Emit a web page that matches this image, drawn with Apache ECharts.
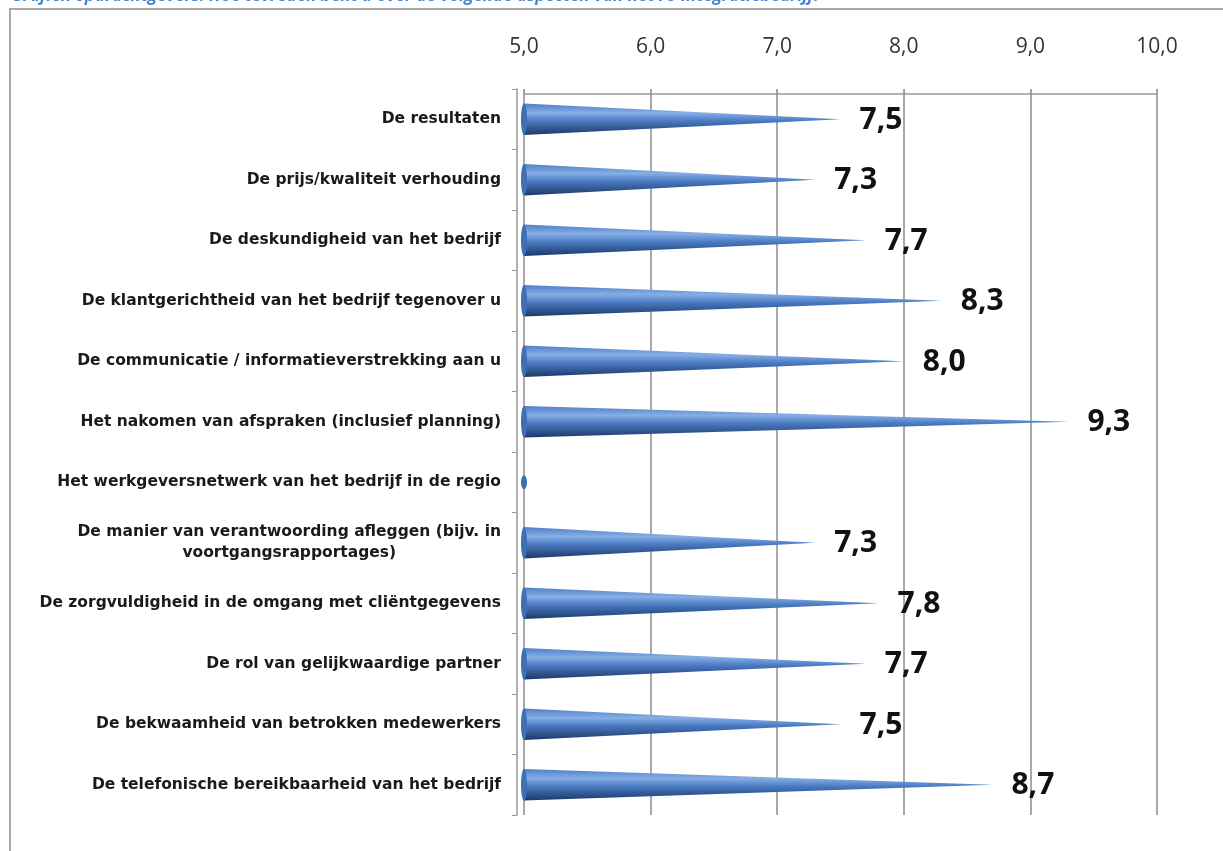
<!DOCTYPE html>
<html>
<head>
<meta charset="utf-8">
<script src="https://cdn.jsdelivr.net/npm/echarts@6/dist/echarts.min.js"></script>
<style>
  html, body { margin: 0; padding: 0; background: #fff; }
  #chart { width: 1223px; height: 851px; }
</style>
</head>
<body>
<div id="chart"></div>
<script>
// categories (top to bottom)
const categories = [
  'De resultaten',
  'De prijs/kwaliteit verhouding',
  'De deskundigheid van het bedrijf',
  'De klantgerichtheid van het bedrijf tegenover u',
  'De communicatie / informatieverstrekking aan u',
  'Het nakomen van afspraken (inclusief planning)',
  'Het werkgeversnetwerk van het bedrijf in de regio',
  'De manier van verantwoording afleggen (bijv. in\nvoortgangsrapportages)',
  'De zorgvuldigheid in de omgang met cliëntgegevens',
  'De rol van gelijkwaardige partner',
  'De bekwaamheid van betrokken medewerkers',
  'De telefonische bereikbaarheid van het bedrijf',
];
// average scores (blank = no answer)
const scores = [7.5, 7.3, 7.7, 8.3, 8.0, 9.3, null, 7.3, 7.8, 7.7, 7.5, 8.7];
const axisMin = 5;
const axisMax = 10;
const axisStep = 1;

const titleText = 'Grafiek opdrachtgevers: Hoe tevreden bent u over de volgende aspecten van het re-integratiebedrijf.';

const myChart = echarts.init(document.getElementById('chart'));

// kegelvorm: breed bij de basis, punt bij de waarde
const coneFill = new echarts.graphic.LinearGradient(0, 0, 0, 1, [
  { offset: 0, color: '#4f7fc6' },
  { offset: 0.3, color: '#86aee6' },
  { offset: 0.55, color: '#4a7bc2' },
  { offset: 1, color: '#1c3868' },
]);

function renderCone(params, api) {
  const idx = api.value(0);
  const val = api.value(1);
  const base = api.coord([axisMin, idx]);
  const bandH = api.size([0, 1])[1];
  const h = bandH * 0.52;
  const children = [];
  if (!isNaN(val) && val != null) {
    const tip = api.coord([val, idx]);
    children.push({
      type: 'polygon',
      shape: {
        points: [
          [base[0], base[1] - h / 2],
          [tip[0], base[1]],
          [base[0], base[1] + h / 2],
        ],
      },
      style: { fill: coneFill },
    });
    children.push({
      type: 'text',
      x: tip[0] + 19,
      y: base[1] + 1,
      style: {
        text: val.toFixed(1).replace('.', ','),
        fontFamily: 'Open Sans, sans-serif',
        fontWeight: 'bold',
        fontSize: 30,
        fill: '#111',
        verticalAlign: 'middle',
        align: 'left',
      },
    });
  }
  // basis van de kegel
  children.push({
    type: 'ellipse',
    shape: { cx: base[0], cy: base[1], rx: 3, ry: isNaN(val) || val == null ? 7 : h / 2 },
    style: { fill: '#3f6fb5' },
  });
  return { type: 'group', children: children };
}

const option = {
  backgroundColor: '#fff',
  animation: false,
  graphic: [
    {
      type: 'rect',
      shape: { x: 10, y: 9, width: 1240, height: 870 },
      style: { fill: 'none', stroke: '#8a8a8a', lineWidth: 1.5 },
      silent: true,
    },
    {
      type: 'text',
      left: 11,
      top: -12,
      style: {
        text: titleText,
        fontFamily: 'Open Sans, sans-serif',
        fontStyle: 'italic',
        fontWeight: 'bold',
        fontSize: 17,
        fill: '#4a86c8',
      },
    },
  ],
  grid: {
    left: 524,
    right: 66,
    top: 89,
    bottom: 36,
  },
  xAxis: {
    type: 'value',
    position: 'top',
    min: axisMin,
    max: axisMax,
    interval: axisStep,
    offset: -5,
    axisLine: { show: true, lineStyle: { color: '#999', width: 1.5 } },
    axisTick: { show: true, length: 5, lineStyle: { color: '#999' } },
    axisLabel: {
      margin: 36,
      fontFamily: 'Open Sans, sans-serif',
      fontSize: 21,
      color: '#333',
      formatter: (v) => v.toFixed(1).replace('.', ','),
    },
    splitLine: { show: true, lineStyle: { color: '#8c8c8c', width: 1.5 } },
  },
  yAxis: {
    type: 'category',
    inverse: true,
    data: categories,
    offset: 7,
    axisLine: { show: true, lineStyle: { color: '#999', width: 1.5 } },
    axisTick: { show: true, length: 5, lineStyle: { color: '#999' } },
    axisLabel: {
      margin: 16,
      lineHeight: 21,
      formatter: (v) => v.split('\n').map((l) => '{c|' + l + '}').join('\n'),
      rich: {
        c: {
          align: 'center',
          fontFamily: 'DejaVu Sans, sans-serif',
          fontWeight: 'bold',
          fontSize: 15.5,
          color: '#1a1a1a',
          lineHeight: 21,
        },
      },
    },
  },
  series: [
    {
      type: 'custom',
      renderItem: renderCone,
      encode: { x: 1, y: 0 },
      data: scores.map((s, i) => [i, s == null ? NaN : s]),
      clip: false,
    },
  ],
};

myChart.setOption(option);
</script>
</body>
</html>
